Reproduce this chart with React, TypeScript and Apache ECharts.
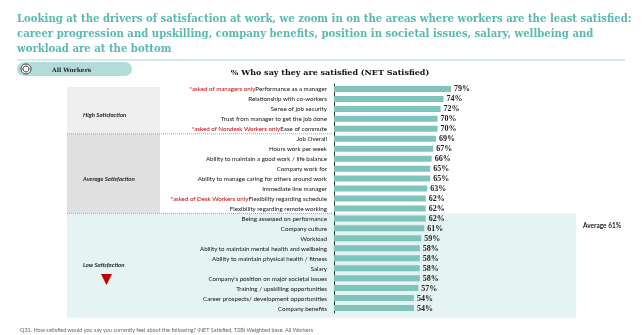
import React, { useEffect, useRef } from "react";
import * as echarts from "echarts";

const categories = [
  "Performance as a manager",
  "Relationship with co-workers",
  "Sense of job security",
  "Trust from manager to get the job done",
  "Ease of commute",
  "Job Overall",
  "Hours work per week",
  "Ability to maintain a good work / life balance",
  "Company work for",
  "Ability to manage caring for others around work",
  "Immediate line manager",
  "Flexibility regarding schedule",
  "Flexibility regarding remote working",
  "Being assessed on performance",
  "Company culture",
  "Workload",
  "Ability to maintain mental health and wellbeing",
  "Ability to maintain physical health / fitness",
  "Salary",
  "Company's position on major societal issues",
  "Training / upskilling opportunities",
  "Career prospects/ development opportunities",
  "Company benefits",
];

const values = [79, 74, 72, 70, 70, 69, 67, 66, 65, 65, 63, 62, 62, 62, 61, 59, 58, 58, 58, 58, 57, 54, 54];

const notes = [
  "*asked of managers only", "", "", "", "*asked of Nondesk Workers only", "", "", "", "", "", "",
  "*asked of Desk Workers only", "", "", "", "", "", "", "", "", "", "", "",
];

const groupLabels = ["High Satisfaction", "Average Satisfaction", "Low Satisfaction"];
const averageLabel = "Average 61%";

const titleText =
  "Looking at the drivers of satisfaction at work, we zoom in on the areas where workers are the least satisfied:\ncareer progression and upskilling, company benefits, position in societal issues, salary, wellbeing and\nworkload are at the bottom";
const chartTitle = "% Who say they are satisfied (NET Satisfied)";
const footnote =
  "Q31. How satisfied would you say you currently feel about the following? (NET Satisfied, T2B) Weighted base. All Workers";

const GRID_LEFT = 334;
const GRID_TOP = 84;
const GRID_H = 229;
const ROW_H = GRID_H / categories.length;
const TEAL = "#58b9b1";

export default function App() {
  const ref = useRef<HTMLDivElement>(null);
  useEffect(() => {
    const chart = echarts.init(ref.current!, null, { renderer: "svg" });
    const yHighEnd = GRID_TOP + ROW_H * 5;
    const yAvgEnd = GRID_TOP + ROW_H * 13;
    const yEnd = GRID_TOP + GRID_H + 5;
    const labelFont = { fontFamily: "Lato", fontSize: 6.2 };
    chart.setOption({
      animation: false,
      grid: { left: GRID_LEFT, top: GRID_TOP, width: 148, height: GRID_H },
      xAxis: { type: "value", min: 0, max: 100, show: false },
      yAxis: {
        type: "category",
        data: categories,
        inverse: true,
        axisLine: { lineStyle: { color: "#333", width: 1 } },
        axisTick: { length: 2, lineStyle: { color: "#333" } },
        axisLabel: {
          margin: 7,
          ...labelFont,
          color: "#111",
          formatter: (v: string, i: number) =>
            notes[i] ? `{red|${notes[i]}}{n|${v}}` : `{n|${v}}`,
          rich: {
            red: { color: "#c00000", ...labelFont },
            n: { color: "#111", ...labelFont },
          },
        },
      },
      series: [
        {
          type: "bar",
          data: values,
          barWidth: 6,
          itemStyle: { color: "#7fc4bc" },
          label: {
            show: true,
            position: "right",
            distance: 3,
            formatter: "{c}%",
            fontFamily: "Liberation Serif",
            fontWeight: "bold",
            fontSize: 8,
            color: "#222",
          },
        },
      ],
      graphic: [
        { type: "rect", z: -10, shape: { x: 67, y: 87, width: 93, height: yHighEnd - 87 }, style: { fill: "#efefef" } },
        { type: "rect", z: -10, shape: { x: 67, y: yHighEnd, width: 93, height: yAvgEnd - yHighEnd }, style: { fill: "#e0e0e0" } },
        { type: "rect", z: -10, shape: { x: 67, y: yAvgEnd, width: 509, height: yEnd - yAvgEnd }, style: { fill: "#e5f3f2" } },
        { type: "line", shape: { x1: 67, y1: yHighEnd, x2: 333, y2: yHighEnd }, style: { stroke: "#6cc3bb", lineWidth: 1, lineDash: [1, 1] } },
        { type: "line", shape: { x1: 67, y1: yAvgEnd, x2: 333, y2: yAvgEnd }, style: { stroke: "#6cc3bb", lineWidth: 1, lineDash: [1, 1] } },
        { type: "text", x: 83, y: 114, style: { text: groupLabels[0], fontFamily: "Lato", fontStyle: "italic", fontWeight: "bold", fontSize: 6, fill: "#222", verticalAlign: "middle" } },
        { type: "text", x: 83, y: 178, style: { text: groupLabels[1], fontFamily: "Lato", fontStyle: "italic", fontWeight: "bold", fontSize: 6, fill: "#222", verticalAlign: "middle" } },
        { type: "text", x: 83, y: 264, style: { text: groupLabels[2], fontFamily: "Lato", fontStyle: "italic", fontWeight: "bold", fontSize: 6, fill: "#222", verticalAlign: "middle" } },
        { type: "polygon", shape: { points: [[101, 274], [112, 274], [106.5, 285]] }, style: { fill: "#c00000" } },
        { type: "text", x: 583, y: 225, style: { text: averageLabel, fontFamily: "Lato", fontWeight: "bold", fontSize: 6.5, fill: "#222", verticalAlign: "middle" } },
        { type: "text", x: 17, y: 11, style: { text: titleText, fontFamily: "DejaVu Serif", fontWeight: "bold", fontSize: 10.1, lineHeight: 15, fill: TEAL } },
        { type: "line", shape: { x1: 17, y1: 60, x2: 625, y2: 60 }, style: { stroke: "#a8d8d4", lineWidth: 1 } },
        { type: "rect", shape: { x: 17, y: 62, width: 115, height: 14, r: 7 }, style: { fill: "#b3dcd9" } },
        { type: "circle", shape: { cx: 26, cy: 69, r: 5 }, style: { fill: "#fff", stroke: "#333", lineWidth: 1 } },
        { type: "circle", shape: { cx: 26, cy: 69, r: 3 }, style: { fill: "#fff", stroke: "#333", lineWidth: 1 } },
        { type: "text", x: 52, y: 69, style: { text: "All Workers", fontFamily: "DejaVu Serif", fontWeight: "bold", fontSize: 6, fill: "#222", verticalAlign: "middle" } },
        { type: "text", x: 330, y: 72, style: { text: chartTitle, fontFamily: "DejaVu Serif", fontWeight: "bold", fontSize: 8, fill: "#111", align: "center", verticalAlign: "middle" } },
        { type: "text", x: 20, y: 330, style: { text: footnote, fontFamily: "Lato", fontSize: 5.5, fill: "#666", verticalAlign: "middle" } },
      ],
    });
    return () => chart.dispose();
  }, []);
  return <div ref={ref} style={{ position: "fixed", left: 0, top: 0, width: 643, height: 335 }} />;
}
